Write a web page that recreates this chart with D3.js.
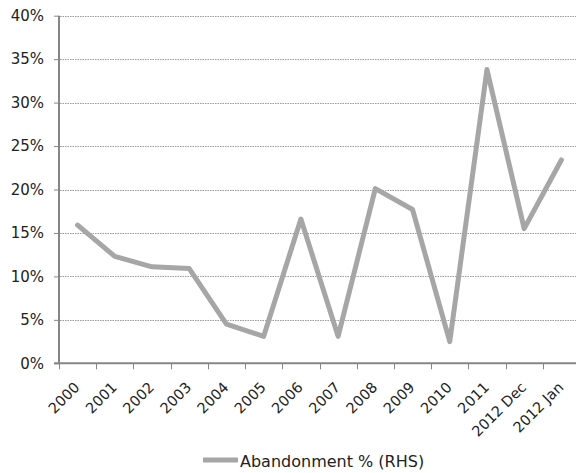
<!DOCTYPE html>
<html>
<head>
<meta charset="utf-8">
<script src="https://cdn.jsdelivr.net/npm/d3@7"></script>
<style>
  html, body { margin: 0; padding: 0; background: #fff; }
  svg { display: block; font-family: "DejaVu Sans", Verdana, sans-serif; }
</style>
</head>
<body>
<svg id="chart" width="576" height="473"></svg>
<script>
// Abandonment rate by period
const categories = ["2000", "2001", "2002", "2003", "2004", "2005", "2006",
                    "2007", "2008", "2009", "2010", "2011", "2012 Dec", "2012 Jan"];
const abandonment = [15.9, 12.3, 11.1, 10.9, 4.5, 3.1, 16.6,
                     3.1, 20.1, 17.7, 2.5, 33.8, 15.5, 23.4];
const yTicks = [0, 5, 10, 15, 20, 25, 30, 35, 40];
const seriesName = "Abandonment % (RHS)";

const svg = d3.select("#chart");
const plotLeft = 59, plotRight = 580, plotTop = 15.7, plotBottom = 363.3;

const x = d3.scaleBand().domain(categories).range([plotLeft, plotRight]).paddingInner(0).paddingOuter(0);
const y = d3.scaleLinear().domain([0, 40]).range([plotBottom, plotTop]);

const axisColor = "#868686";

// dotted gridlines
svg.append("g")
  .selectAll("line")
  .data(yTicks.filter(d => d > 0))
  .join("line")
  .attr("x1", plotLeft + 1).attr("x2", plotRight)
  .attr("y1", d => Math.round(y(d)) + 0.5).attr("y2", d => Math.round(y(d)) + 0.5)
  .attr("stroke", "#9a9a9a")
  .attr("stroke-width", 1)
  .attr("stroke-dasharray", "1.5,1");

// y axis
const yAxis = svg.append("g")
  .attr("transform", `translate(${plotLeft},0)`)
  .call(d3.axisLeft(y).tickValues(yTicks).tickSize(5).tickPadding(10).tickFormat(d => d + "%"));
yAxis.select(".domain").attr("stroke", axisColor).attr("stroke-width", 2)
  .attr("d", `M0,${plotTop}V${plotBottom}`);
yAxis.selectAll(".tick line").attr("stroke", axisColor).attr("stroke-width", 1);
yAxis.selectAll(".tick text").attr("fill", "#222").style("font-size", "15px")
  .style("font-family", "'DejaVu Sans', Verdana, sans-serif");

// x axis: ticks on band boundaries
const xAxis = svg.append("g")
  .attr("transform", `translate(0,${plotBottom})`);
xAxis.append("line")
  .attr("x1", plotLeft - 5).attr("x2", plotRight)
  .attr("stroke", axisColor).attr("stroke-width", 2);
const bounds = categories.map(c => x(c)).concat([plotRight]);
xAxis.selectAll("line.tk")
  .data(bounds)
  .join("line")
  .attr("class", "tk")
  .attr("x1", d => Math.round(d) + 0.5).attr("x2", d => Math.round(d) + 0.5)
  .attr("y1", 0).attr("y2", 6)
  .attr("stroke", axisColor).attr("stroke-width", 1);
xAxis.selectAll("text")
  .data(categories)
  .join("text")
  .attr("transform", d => `translate(${x(d) + x.bandwidth() / 2 + 3},${25}) rotate(-45)`)
  .attr("text-anchor", "end")
  .attr("fill", "#222")
  .style("font-size", "14.5px")
  .text(d => d);

// series line
const line = d3.line()
  .x((d, i) => x(categories[i]) + x.bandwidth() / 2)
  .y(d => y(d));
svg.append("path")
  .datum(abandonment)
  .attr("d", line)
  .attr("fill", "none")
  .attr("stroke", "#a6a6a6")
  .attr("stroke-width", 5)
  .attr("stroke-linejoin", "round")
  .attr("stroke-linecap", "round");

// legend
const legend = svg.append("g").attr("transform", "translate(203,460)");
legend.append("line")
  .attr("x1", 0).attr("x2", 35).attr("y1", 0).attr("y2", 0)
  .attr("stroke", "#a6a6a6").attr("stroke-width", 5);
legend.append("text")
  .attr("x", 37).attr("y", 7)
  .attr("fill", "#222")
  .style("font-size", "16px")
  .text(seriesName);
</script>
</body>
</html>
